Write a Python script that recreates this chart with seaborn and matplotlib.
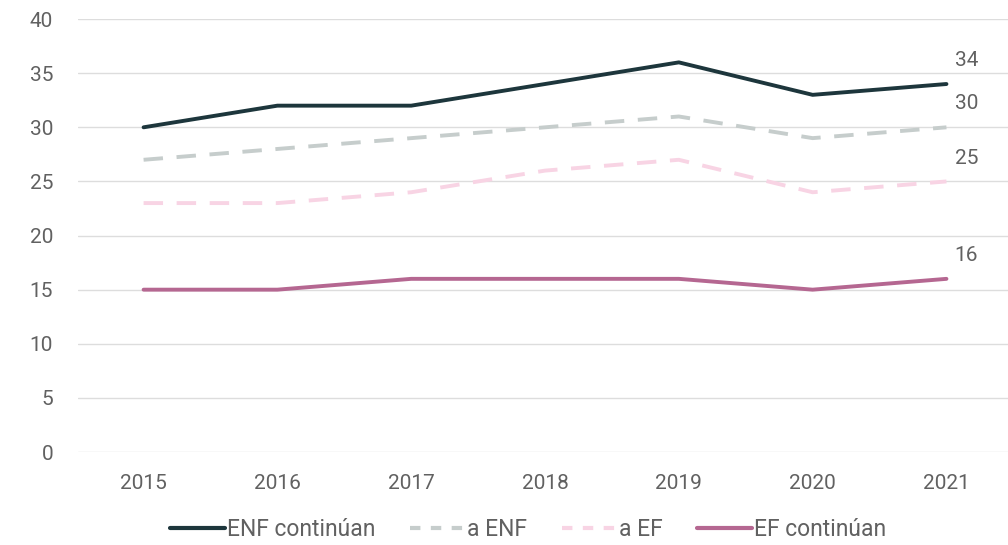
import pandas as pd
import numpy as np
import seaborn as sns
import matplotlib.pyplot as plt
from matplotlib.lines import Line2D

# datos
anios = ['2015', '2016', '2017', '2018', '2019', '2020', '2021']
enf_continuan = [30, 32, 32, 34, 36, 33, 34]
a_enf = [27, 28, 29, 30, 31, 29, 30]
a_ef = [23, 23, 24, 26, 27, 24, 25]
ef_continuan = [15, 15, 16, 16, 16, 15, 16]

series = ['ENF continúan', 'a ENF', 'a EF', 'EF continúan']
colores = ['#1d363c', '#c6cdcc', '#f8d4e4', '#b56791']
estilos = {'ENF continúan': '', 'a ENF': (5, 3.5), 'a EF': (5, 3.5), 'EF continúan': ''}

df = pd.DataFrame({'anio': anios, 'ENF continúan': enf_continuan, 'a ENF': a_enf,
                   'a EF': a_ef, 'EF continúan': ef_continuan})
df['x'] = range(len(anios))
largo = df.melt(id_vars=['anio', 'x'], var_name='serie', value_name='valor')

sns.set_style('white')
plt.rcParams['font.family'] = ['Roboto', 'DejaVu Sans']

fig = plt.figure(figsize=(10.08, 5.45), dpi=100)
ax = fig.add_axes([0.0774, 0.1706, 0.9226, 0.7944])

sns.lineplot(data=largo, x='x', y='valor', hue='serie', style='serie',
             hue_order=series, style_order=series, palette=colores,
             dashes=estilos, linewidth=2.8, ax=ax, legend=False)

ax.set_xlim(-0.49, 6.46)
ax.set_ylim(0, 40)
ax.set_yticks(range(0, 41, 5))
ax.set_xticks(df['x'])
ax.set_xticklabels(anios)
ax.set_xlabel('')
ax.set_ylabel('')
ax.grid(axis='y', color='#dddddd', linewidth=1)
ax.set_axisbelow(True)
for s in ax.spines.values():
    s.set_visible(False)
ax.tick_params(axis='both', length=0, labelsize=15, labelcolor='#616161')
ax.tick_params(axis='y', pad=18)
ax.tick_params(axis='x', pad=16)

# etiquetas del último año
for serie in series:
    v = df[serie].iloc[-1]
    ax.annotate(str(v), (6, v), xytext=(6, 10), textcoords='offset points',
                fontsize=15, color='#616161', ha='left', va='bottom')

handles = [Line2D([], [], color=c, linewidth=3,
                  linestyle='-' if estilos[s] == '' else (0, (2.5, 2.5)))
           for s, c in zip(series, colores)]
fig.legend(handles, series, loc='lower center', bbox_to_anchor=(0.524, -0.03),
           ncol=4, frameon=False, fontsize=16.5, handlelength=2.4,
           handletextpad=0.1, columnspacing=1.5, labelcolor='#616161')

plt.savefig('out.png', dpi=100)
